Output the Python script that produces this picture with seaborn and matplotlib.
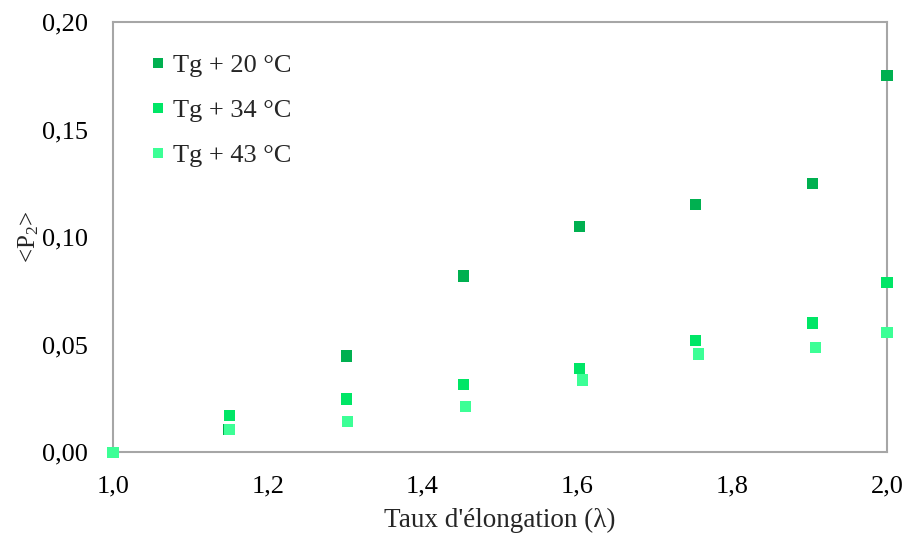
import matplotlib
matplotlib.use("Agg")
import matplotlib.pyplot as plt
import seaborn as sns
import pandas as pd
from matplotlib.ticker import MultipleLocator, FuncFormatter

series = ["Tg + 20 °C", "Tg + 34 °C", "Tg + 43 °C"]
colors = ["#00B050", "#00E666", "#3CFF96"]

x_20 = [1.0, 1.149, 1.302, 1.453, 1.603, 1.753, 1.904, 2.0]
y_20 = [0.0, 0.0107, 0.0447, 0.0819, 0.105, 0.115, 0.1247, 0.1753]
x_34 = [1.0, 1.15, 1.302, 1.453, 1.603, 1.753, 1.904, 2.0]
y_34 = [0.0, 0.0172, 0.0247, 0.0316, 0.0388, 0.0518, 0.060, 0.079]
x_43 = [1.0, 1.151, 1.303, 1.455, 1.607, 1.757, 1.908, 2.0]
y_43 = [0.0, 0.0107, 0.0144, 0.0214, 0.0335, 0.0456, 0.0488, 0.0558]

df = pd.concat([
    pd.DataFrame({"x": x_20, "y": y_20, "s": series[0]}),
    pd.DataFrame({"x": x_34, "y": y_34, "s": series[1]}),
    pd.DataFrame({"x": x_43, "y": y_43, "s": series[2]}),
], ignore_index=True)

sns.set_theme(style="white")
plt.rcParams["font.family"] = ["Liberation Serif", "DejaVu Serif"]
plt.rcParams["mathtext.fontset"] = "custom"
plt.rcParams["mathtext.rm"] = "Liberation Serif"
plt.rcParams["mathtext.it"] = "Liberation Serif:italic"

fig = plt.figure(figsize=(9.06, 5.35), dpi=100)
ax = fig.add_axes([0.1247, 0.155, 0.979 - 0.1247, 0.9589 - 0.155])

sns.scatterplot(data=df, x="x", y="y", hue="s", palette=colors, marker="s",
                s=64, linewidth=0, ax=ax, clip_on=False, zorder=5, legend=False)

ax.set_xlim(1.0, 2.0)
ax.set_ylim(0.0, 0.20)
ax.xaxis.set_major_locator(MultipleLocator(0.2))
ax.xaxis.set_minor_locator(MultipleLocator(0.1))
ax.yaxis.set_major_locator(MultipleLocator(0.05))
ax.yaxis.set_minor_locator(MultipleLocator(0.01))
ax.xaxis.set_major_formatter(FuncFormatter(lambda v, p: f"{v:.1f}".replace(".", ",")))
ax.yaxis.set_major_formatter(FuncFormatter(lambda v, p: f"{v:.2f}".replace(".", ",")))

gray = "#A6A6A6"
for sp in ax.spines.values():
    sp.set_color(gray)
    sp.set_linewidth(1.5)
ax.tick_params(axis="both", which="both", direction="out", color=gray, width=1.5)
ax.tick_params(axis="both", which="major", length=6, labelsize=19, colors=gray, labelcolor="black")
ax.tick_params(axis="y", which="major", pad=12)
ax.tick_params(axis="x", which="major", pad=11)
ax.tick_params(axis="both", which="minor", length=5)

ax.set_xlabel("Taux d'élongation (λ)", fontsize=19.5, labelpad=7)
ax.set_ylabel(r"<P$_2$>", fontsize=18, labelpad=1)

handles = [plt.Line2D([], [], marker="s", linestyle="", markersize=7.5,
                      markerfacecolor=c, markeredgewidth=0) for c in colors]
ax.legend(handles, series, loc="upper left", bbox_to_anchor=(0.045, 0.927),
          frameon=False, fontsize=19, handletextpad=0.15, labelspacing=0.82,
          handlelength=0.8, borderpad=0, borderaxespad=0)

fig.savefig("out.png", dpi=100)
